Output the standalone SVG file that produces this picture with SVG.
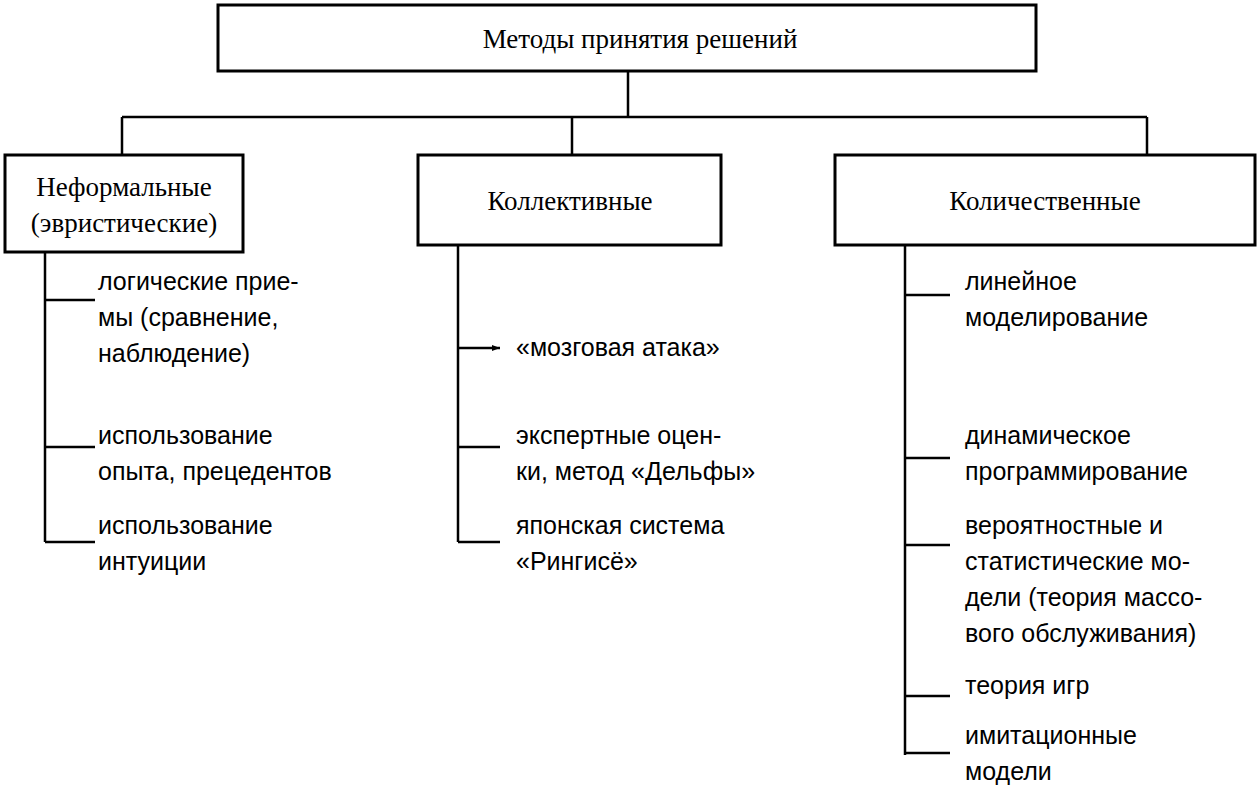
<svg xmlns="http://www.w3.org/2000/svg" width="1260" height="794" viewBox="0 0 1260 794">
<style>
.b{fill:#fff;stroke:#000;stroke-width:3}
.l{stroke:#000;stroke-width:2.5;fill:none}
.h{font-family:"Liberation Serif",serif;font-size:27px;text-anchor:middle}
.t{font-family:"Liberation Sans",sans-serif;font-size:25px}
</style>
<defs><marker id="a" markerUnits="userSpaceOnUse" markerWidth="8" markerHeight="6" refX="8" refY="3" orient="auto"><path d="M0,0 L8,3 L0,6z"/></marker></defs>
<rect width="1260" height="794" fill="#fff"/>
<g id="connectors">
<path class="l" d="M628 71V117M122 117H1147M122 117V155M572 117V155M1147 117V155"/>
<path class="l" d="M45 252V542M45 300H95M45 447H95M45 542H95"/>
<path class="l" d="M458 245V542M458 447H500M458 542H500"/>
<path class="l" d="M458 348H500" marker-end="url(#a)"/>
<path class="l" d="M905 245V755M905 295H950M905 458H950M905 545H950M905 696H950M905 753H950"/>
</g>
<g id="root"><rect class="b" x="218" y="5" width="818" height="66"/><text class="h" x="640" y="48">Методы принятия решений</text></g>
<g id="n1"><rect class="b" x="5" y="155" width="238" height="97"/><text class="h" x="124" y="196">Неформальные</text><text class="h" x="124" y="232">(эвристические)</text></g>
<g id="n2"><rect class="b" x="418" y="155" width="303" height="90"/><text class="h" x="570" y="210">Коллективные</text></g>
<g id="n3"><rect class="b" x="835" y="155" width="420" height="90"/><text class="h" x="1045" y="210">Количественные</text></g>
<g id="items" class="t">
<text x="98" y="290">логические прие-</text><text x="98" y="326">мы (сравнение,</text><text x="98" y="362">наблюдение)</text>
<text x="98" y="444">использование</text><text x="98" y="480">опыта, прецедентов</text>
<text x="98" y="534">использование</text><text x="98" y="570">интуиции</text>
<text x="516" y="356">«мозговая атака»</text>
<text x="516" y="444">экспертные оцен-</text><text x="516" y="480">ки, метод «Дельфы»</text>
<text x="516" y="534">японская система</text><text x="516" y="570">«Рингисё»</text>
<text x="965" y="290">линейное</text><text x="965" y="326">моделирование</text>
<text x="965" y="444">динамическое</text><text x="965" y="480">программирование</text>
<text x="965" y="534">вероятностные и</text><text x="965" y="570">статистические мо-</text><text x="965" y="606">дели (теория массо-</text><text x="965" y="642">вого обслуживания)</text>
<text x="965" y="694">теория игр</text>
<text x="965" y="744">имитационные</text><text x="965" y="780">модели</text>
</g>
</svg>
